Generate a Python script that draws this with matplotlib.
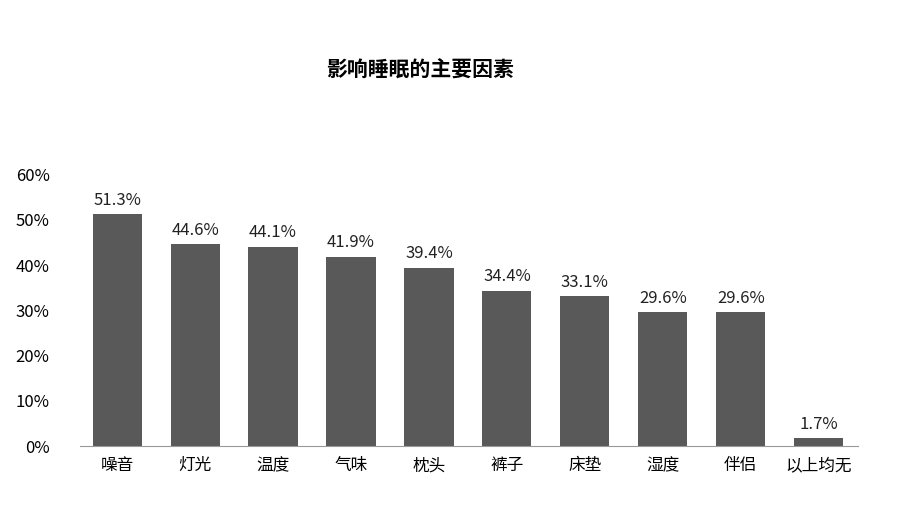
import matplotlib.pyplot as plt
from matplotlib.ticker import PercentFormatter

plt.rcParams['font.family'] = ['Noto Sans CJK SC', 'DejaVu Sans']

categories = ['噪音', '灯光', '温度', '气味', '枕头', '裤子', '床垫', '湿度', '伴侣', '以上均无']
values = [51.3, 44.6, 44.1, 41.9, 39.4, 34.4, 33.1, 29.6, 29.6, 1.7]

fig = plt.figure(figsize=(9, 5.11), dpi=100)
ax = fig.add_axes([0.089, 0.127, 0.864, 0.531])
x = range(len(categories))
bars = ax.bar(x, values, width=0.63, color='#595959')
for xi, v in zip(x, values):
    ax.text(xi, v + 1.2, f'{v}%', ha='center', va='bottom', fontsize=12, color='#222222')

ax.set_xlim(-0.475, 9.5)
ax.set_ylim(0, 60)
ax.set_yticks(range(0, 61, 10))
ax.yaxis.set_major_formatter(PercentFormatter(decimals=0))
ax.set_xticks(list(x))
ax.set_xticklabels(categories, fontsize=12)
ax.tick_params(axis='y', labelsize=12, length=0, pad=22)
ax.tick_params(axis='x', length=0, pad=8)
for s in ['top', 'right', 'left']:
    ax.spines[s].set_visible(False)
ax.spines['bottom'].set_color('#999999')

fig.text(0.467, 0.863, '影响睡眠的主要因素', ha='center', va='center', fontsize=15, fontweight='bold')
fig.savefig('out.png', dpi=100)
